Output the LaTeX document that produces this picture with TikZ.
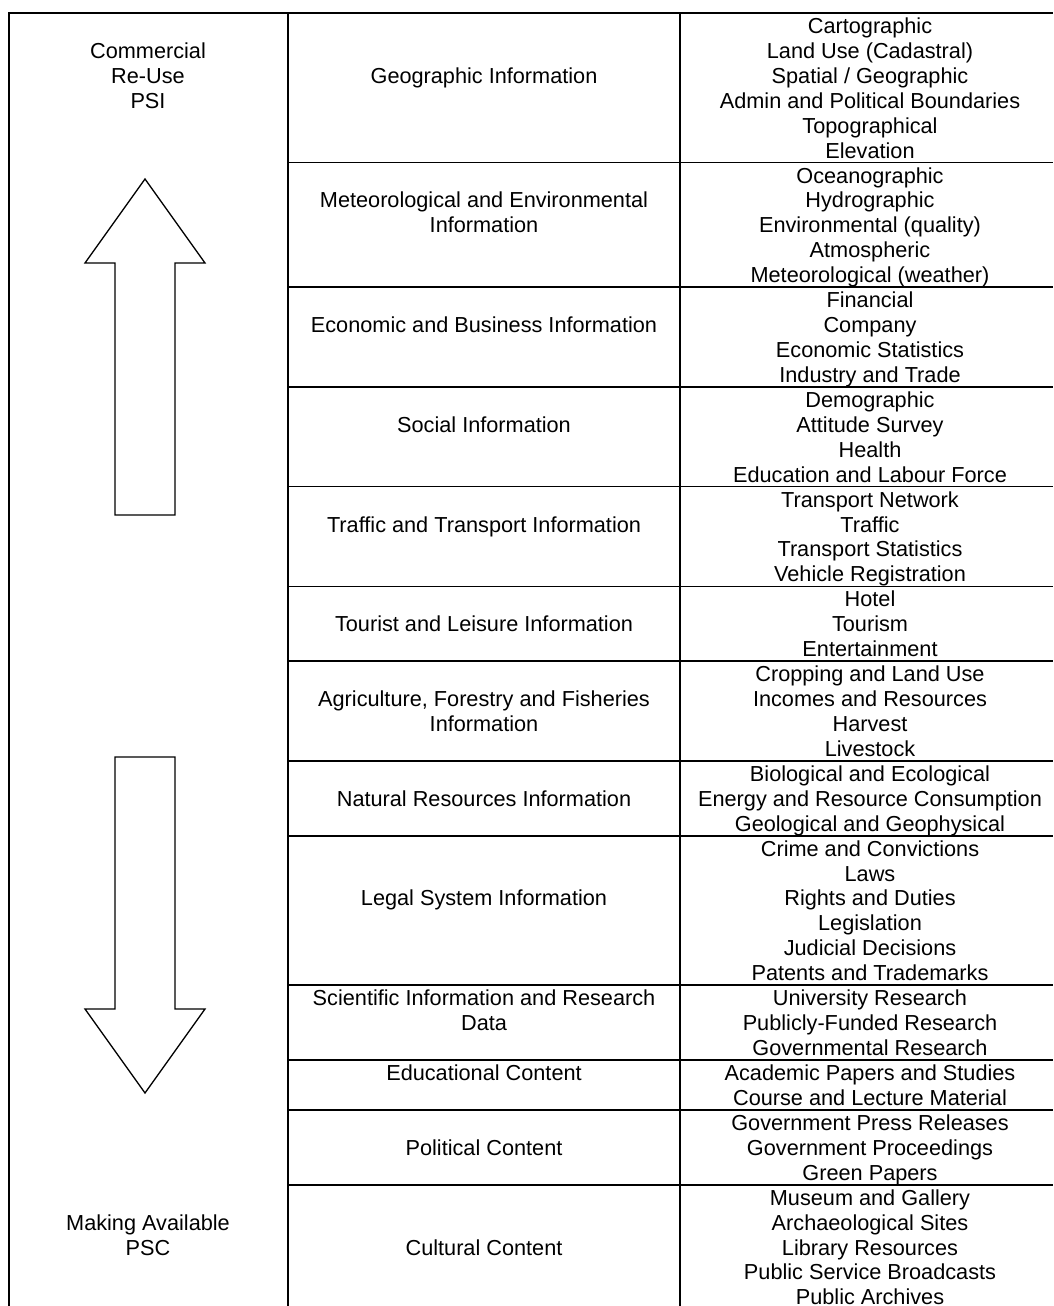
\documentclass[tikz,border=0pt]{standalone}
\usepackage{fontspec}
\setmainfont{Liberation Sans}
\newcommand{\cellfont}{\fontsize{21.7}{24.93}\selectfont}
\newcommand{\rowy}[1]{{13+24.93*(#1)}} % top of text line #1+1 in the table
\tikzset{
  rule/.style={line width=1.6pt}, % table lines
  cell/.style={align=center, anchor=north, inner sep=0pt, font=\cellfont,
    yshift=-4.5pt},
  bigarrow/.style={line width=1.3pt, line join=miter},
}

\begin{document}
\begin{tikzpicture}[x=1pt, y=-1pt]
  \useasboundingbox (0,0) rectangle (1053,1306);

  % table frame and columns
  \draw[rule] (9,1306) -- (9,13) -- (1053,13);
  \draw[rule] (288,13) -- (288,1306);
  \draw[rule] (680,13) -- (680,1306);
  \foreach \k in {6,11,15,19,23,26,30,33,39,42,44,47}
    \draw[rule] (288,\rowy{\k}) -- (1053,\rowy{\k});

  % left column
  \node[cell] (psi) at (148,\rowy{1}) {Commercial\\Re-Use\\PSI};
  \node[cell] (psc) at (148,\rowy{48}) {Making Available\\PSC};
  \draw[bigarrow] (145,179) -- (205,263) -- (175,263) -- (175,515)
    -- (115,515) -- (115,263) -- (85,263) -- cycle;
  \draw[bigarrow] (115,757) -- (175,757) -- (175,1009) -- (205,1009)
    -- (145,1093) -- (85,1009) -- (115,1009) -- cycle;

  % categories
  \node[cell] (geo) at (484,\rowy{2}) {Geographic Information};
  \node[cell] (met) at (484,\rowy{7}) {Meteorological and Environmental\\Information};
  \node[cell] (eco) at (484,\rowy{12}) {Economic and Business Information};
  \node[cell] (soc) at (484,\rowy{16}) {Social Information};
  \node[cell] (tra) at (484,\rowy{20}) {Traffic and Transport Information};
  \node[cell] (tou) at (484,\rowy{24}) {Tourist and Leisure Information};
  \node[cell] (agr) at (484,\rowy{27}) {Agriculture, Forestry and Fisheries\\Information};
  \node[cell] (nat) at (484,\rowy{31}) {Natural Resources Information};
  \node[cell] (leg) at (484,\rowy{35}) {Legal System Information};
  \node[cell] (sci) at (484,\rowy{39}) {Scientific Information and Research\\Data};
  \node[cell] (edu) at (484,\rowy{42}) {Educational Content};
  \node[cell] (pol) at (484,\rowy{45}) {Political Content};
  \node[cell] (cul) at (484,\rowy{49}) {Cultural Content};

  % sub-categories
  \node[cell] (geo-list) at (870,\rowy{0}) {Cartographic\\Land Use (Cadastral)\\Spatial / Geographic\\Admin and Political Boundaries\\Topographical\\Elevation};
  \node[cell] (met-list) at (870,\rowy{6}) {Oceanographic\\Hydrographic\\Environmental (quality)\\Atmospheric\\Meteorological (weather)};
  \node[cell] (eco-list) at (870,\rowy{11}) {Financial\\Company\\Economic Statistics\\Industry and Trade};
  \node[cell] (soc-list) at (870,\rowy{15}) {Demographic\\Attitude Survey\\Health\\Education and Labour Force};
  \node[cell] (tra-list) at (870,\rowy{19}) {Transport Network\\Traffic\\Transport Statistics\\Vehicle Registration};
  \node[cell] (tou-list) at (870,\rowy{23}) {Hotel\\Tourism\\Entertainment};
  \node[cell] (agr-list) at (870,\rowy{26}) {Cropping and Land Use\\Incomes and Resources\\Harvest\\Livestock};
  \node[cell] (nat-list) at (870,\rowy{30}) {Biological and Ecological\\Energy and Resource Consumption\\Geological and Geophysical};
  \node[cell] (leg-list) at (870,\rowy{33}) {Crime and Convictions\\Laws\\Rights and Duties\\Legislation\\Judicial Decisions\\Patents and Trademarks};
  \node[cell] (sci-list) at (870,\rowy{39}) {University Research\\Publicly-Funded Research\\Governmental Research};
  \node[cell] (edu-list) at (870,\rowy{42}) {Academic Papers and Studies\\Course and Lecture Material};
  \node[cell] (pol-list) at (870,\rowy{44}) {Government Press Releases\\Government Proceedings\\Green Papers};
  \node[cell] (cul-list) at (870,\rowy{47}) {Museum and Gallery\\Archaeological Sites\\Library Resources\\Public Service Broadcasts\\Public Archives};
\end{tikzpicture}
\end{document}
